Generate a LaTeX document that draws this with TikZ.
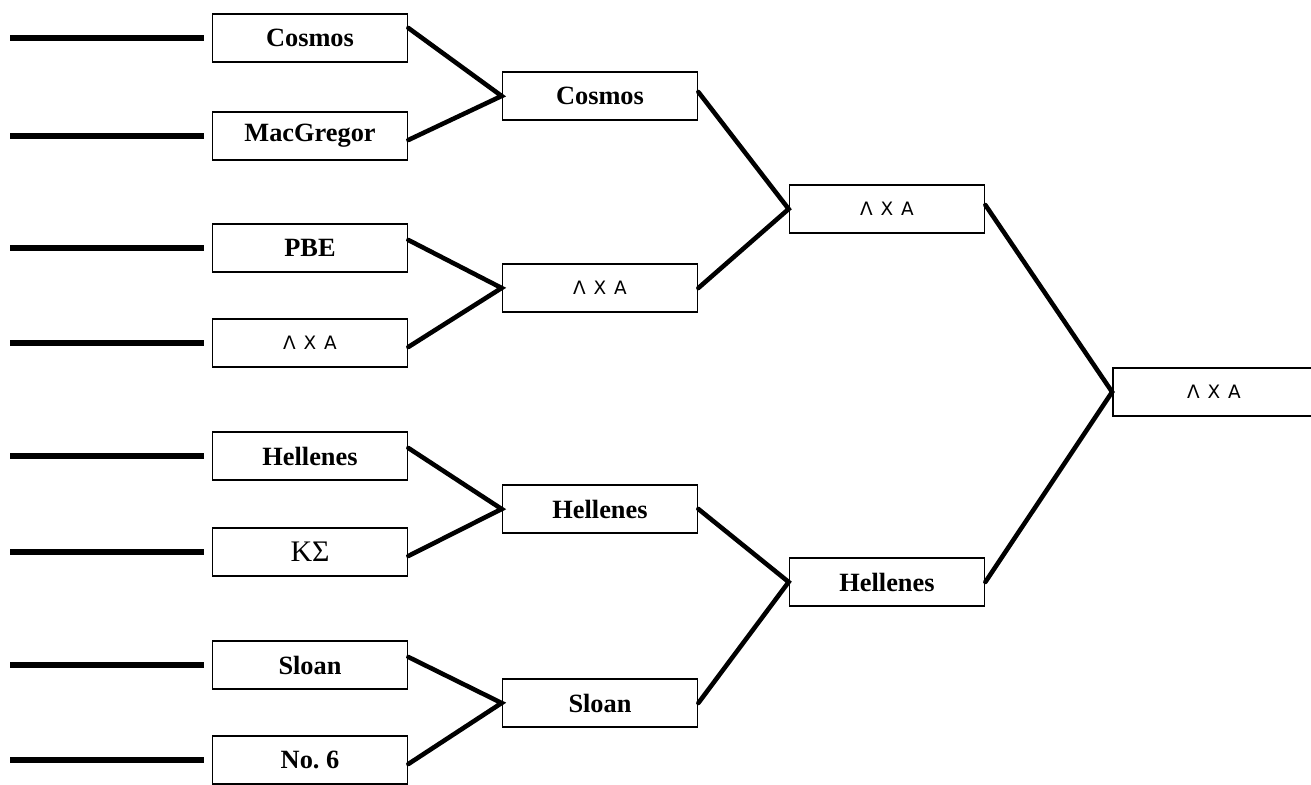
\documentclass[tikz,border=0pt]{standalone}
\usepackage{fontspec}
\setmainfont{Liberation Serif}
\newfontfamily\grkfont{DejaVu Sans}
\usepackage{tikz}
\usetikzlibrary{positioning}
\newcommand{\lxa}{{\grkfont\mdseries\fontsize{10.5}{12}\selectfont Λ\kern4.5pt Χ\kern4.5pt Α}}

\begin{document}
\begin{tikzpicture}[x=0.02cm,y=-0.02cm,
  team/.style={draw,line width=1pt,minimum width=3.9cm,minimum height=0.96cm,inner sep=0pt,font=\bfseries\fontsize{15}{17}\selectfont},
  link/.style={line width=2.6pt,line cap=round},
  stub/.style={line width=3.2pt}]
  \useasboundingbox (0,0) rectangle (1311,784);
  % first round
  \node[team] (c1) at (310,38) {Cosmos};
  \node[team] (c2) at (310,136) {MacGregor};
  \node[team] (c3) at (310,248) {PBE};
  \node[team] (c4) at (310,343) {\lxa};
  \node[team] (c5) at (310,456) {Hellenes};
  \node[team] (c6) at (310,552) {\mdseries\fontsize{17}{19}\selectfont ΚΣ};
  \node[team] (c7) at (310,665) {Sloan};
  \node[team] (c8) at (310,760) {No.\ 6};
  \foreach \i/\y in {1/38,2/136,3/248,4/343,5/456,6/552,7/665,8/760}{
    \coordinate (s\i) at (10,\y);
    \draw[stub] (s\i) -- ([xshift=-0.16cm]c\i.west);
  }
  % second round
  \node[team] (q1) at (600,96) {Cosmos};
  \node[team] (q2) at (600,288) {\lxa};
  \node[team] (q3) at (600,509) {Hellenes};
  \node[team] (q4) at (600,703) {Sloan};
  % semis and final
  \node[team] (f1) at (887,209) {\lxa};
  \node[team] (f2) at (887,582) {Hellenes};
  \node[team,minimum width=4.04cm] (win) at (1214,392) {\lxa};
  \draw[link] ([yshift=0.2cm]c1.east) -- (q1.west) -- ([yshift=-0.08cm]c2.east);
  \draw[link] ([yshift=0.16cm]c3.east) -- (q2.west) -- ([yshift=-0.08cm]c4.east);
  \draw[link] ([yshift=0.16cm]c5.east) -- (q3.west) -- ([yshift=-0.08cm]c6.east);
  \draw[link] ([yshift=0.16cm]c7.east) -- (q4.west) -- ([yshift=-0.08cm]c8.east);
  \draw[link] ([yshift=0.08cm]q1.east) -- (f1.west) -- (q2.east);
  \draw[link] (q3.east) -- (f2.west) -- (q4.east);
  \draw[link] ([yshift=0.08cm]f1.east) -- (win.west) -- (f2.east);
\end{tikzpicture}
\end{document}
